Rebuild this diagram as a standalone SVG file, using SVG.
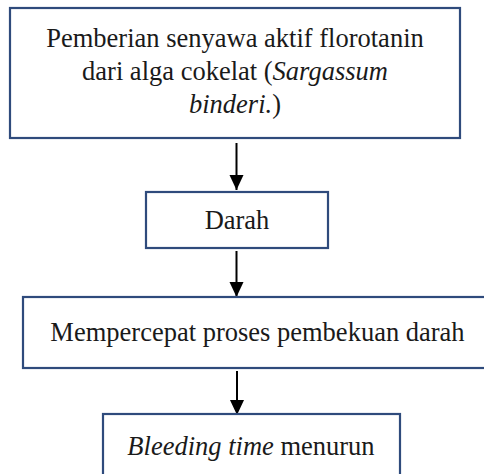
<svg xmlns="http://www.w3.org/2000/svg" width="484" height="474" viewBox="0 0 484 474">
<style>
.box{fill:#fff;stroke:#2f4b7c;stroke-width:2.2}
text{font-family:'Liberation Serif',Tinos,'DejaVu Serif',serif;font-size:26.5px;fill:#1a1a1a;text-anchor:middle}
.i{font-style:italic}
.c{stroke:#000;stroke-width:2;fill:none}
</style>
<defs>
<marker id="ah" markerUnits="userSpaceOnUse" markerWidth="16" markerHeight="16" viewBox="0 0 16 16" refX="15" refY="8" orient="auto">
<polygon points="0,1 15,8 0,15" fill="#000"/>
</marker>
</defs>
<rect width="484" height="474" fill="#fff"/>
<g id="connectors">
<line class="c" x1="236.5" y1="143" x2="236.5" y2="190" marker-end="url(#ah)"/>
<line class="c" x1="236.5" y1="251" x2="236.5" y2="297" marker-end="url(#ah)"/>
<line class="c" x1="237" y1="371" x2="237" y2="415" marker-end="url(#ah)"/>
</g>
<g id="n1" font-family="Liberation Serif, serif">
<rect class="box" x="10" y="8" width="450" height="130"/>
<text x="235" y="47">Pemberian senyawa aktif florotanin</text>
<text x="235" y="80">dari alga cokelat (<tspan class="i">Sargassum</tspan></text>
<text x="235" y="113"><tspan class="i">binderi.</tspan>)</text>
</g>
<g id="n2">
<rect class="box" x="146" y="192" width="182" height="56"/>
<text x="237" y="229">Darah</text>
</g>
<g id="n3">
<rect class="box" x="23" y="297" width="470" height="71"/>
<text x="257.5" y="341">Mempercepat proses pembekuan darah</text>
</g>
<g id="n4">
<rect class="box" x="103" y="414" width="297" height="70"/>
<text x="251" y="455"><tspan class="i">Bleeding time</tspan> menurun</text>
</g>
</svg>
